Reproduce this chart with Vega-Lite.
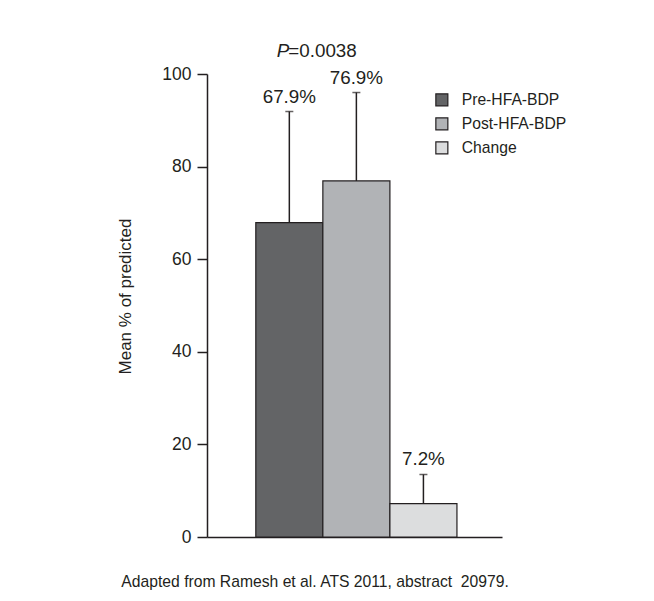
{
  "$schema": "https://vega.github.io/schema/vega-lite/v6.json",
  "autosize": {"type": "none"},
  "width": 295,
  "height": 463,
  "padding": {"left": 207, "top": 74, "right": 152, "bottom": 64},
  "background": "white",
  "config": {
    "font": "Liberation Sans",
    "view": {"stroke": null},
    "axis": {"grid": false}
  },
  "data": {
    "values": [
      {"group": "Pre-HFA-BDP", "mean": 67.9, "upper": 91.9, "label": "67.9%"},
      {"group": "Post-HFA-BDP", "mean": 76.9, "upper": 96.0, "label": "76.9%"},
      {"group": "Change", "mean": 7.2, "upper": 13.5, "label": "7.2%"}
    ]
  },
  "encoding": {
    "x": {
      "field": "group",
      "type": "nominal",
      "sort": ["Pre-HFA-BDP", "Post-HFA-BDP", "Change"],
      "scale": {"paddingInner": 0, "paddingOuter": 0.7, "align": 0.52},
      "axis": {"title": null, "labels": false, "ticks": false, "domainColor": "#231f20", "domainWidth": 1.5}
    }
  },
  "layer": [
    {
      "mark": {"type": "rule", "color": "#231f20", "strokeWidth": 1.5},
      "encoding": {
        "y": {"field": "mean", "type": "quantitative"},
        "y2": {"field": "upper"}
      }
    },
    {
      "mark": {"type": "tick", "orient": "horizontal", "color": "#231f20", "size": 8, "thickness": 1.5},
      "encoding": {
        "y": {"field": "upper", "type": "quantitative"}
      }
    },
    {
      "mark": {"type": "bar", "stroke": "#231f20", "strokeWidth": 1.2},
      "encoding": {
        "y": {
          "field": "mean",
          "type": "quantitative",
          "scale": {"domain": [0, 100], "nice": false},
          "axis": {
            "title": "Mean % of predicted",
            "values": [0, 20, 40, 60, 80, 100],
            "tickSize": 10,
            "tickWidth": 1.5,
            "tickColor": "#231f20",
            "domainColor": "#231f20",
            "domainWidth": 1.5,
            "labelFontSize": 17.5,
            "labelColor": "#231f20",
            "labelPadding": 6,
            "titleFontSize": 17,
            "titleFontWeight": "normal",
            "titleColor": "#231f20",
            "titleY": 222,
            "titleX": -73
          }
        },
        "fill": {
          "field": "group",
          "type": "nominal",
          "sort": ["Pre-HFA-BDP", "Post-HFA-BDP", "Change"],
          "scale": {"range": ["#636466", "#b1b3b6", "#dcddde"]},
          "legend": {
            "title": null,
            "orient": "none",
            "legendX": 227,
            "legendY": 18,
            "symbolType": "square",
            "symbolSize": 144,
            "symbolStrokeColor": "#231f20",
            "symbolStrokeWidth": 1.2,
            "labelFontSize": 15.7,
            "labelColor": "#231f20",
            "labelOffset": 12,
            "rowPadding": 6
          }
        }
      }
    },
    {
      "mark": {"type": "text", "fontSize": 18.8, "color": "#231f20", "baseline": "alphabetic", "dy": -9},
      "encoding": {
        "y": {"field": "upper", "type": "quantitative"},
        "text": {"field": "label"}
      }
    },
    {
      "data": {"values": [{"group": "Pre-HFA-BDP", "p": "P", "val": "=0.0038"}]},
      "layer": [
        {
          "mark": {"type": "text", "fontSize": 18.8, "fontStyle": "italic", "color": "#231f20", "align": "right", "baseline": "alphabetic", "dx": 0},
          "encoding": {"y": {"datum": 103.7}, "text": {"field": "p"}}
        },
        {
          "mark": {"type": "text", "fontSize": 18.8, "color": "#231f20", "align": "left", "baseline": "alphabetic", "dx": -1},
          "encoding": {"y": {"datum": 103.7}, "text": {"field": "val"}}
        }
      ]
    },
    {
      "data": {"values": [{"group": "Pre-HFA-BDP", "note": "Adapted from Ramesh et al. ATS 2011, abstract\u00a0 20979."}]},
      "mark": {"type": "text", "fontSize": 15.7, "color": "#231f20", "align": "left", "baseline": "middle", "dx": -168},
      "encoding": {"y": {"datum": -9.7}, "text": {"field": "note"}}
    }
  ]
}
